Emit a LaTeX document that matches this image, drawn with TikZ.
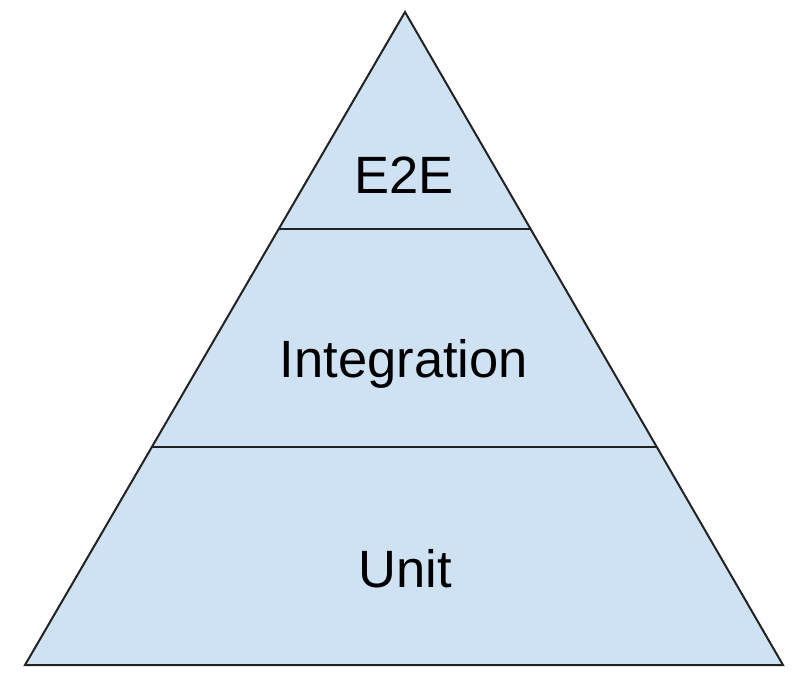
\documentclass[tikz,border=0pt]{standalone}
\usepackage{fontspec}
\setmainfont{Liberation Sans}
\definecolor{pyrfill}{HTML}{CFE2F3}
\definecolor{pyrline}{HTML}{222222}
\begin{document}
\begin{tikzpicture}[x=1pt,y=-1pt,
  edge/.style={draw=pyrline,line width=2pt,line join=miter},
  label/.style={anchor=base,inner sep=0pt,font=\fontsize{52.5}{60}\selectfont}]
\useasboundingbox (0,0) rectangle (804,694);
\coordinate (apex) at (405,12);
\coordinate (bl) at (25,665);
\coordinate (br) at (783,665);
\coordinate (l1) at (278.7,229);
\coordinate (r1) at (530.6,229);
\coordinate (l2) at (151.9,447);
\coordinate (r2) at (656.8,447);
\fill[pyrfill] (apex) -- (br) -- (bl) -- cycle;
\draw[edge] (l1) -- (r1);
\draw[edge] (l2) -- (r2);
\draw[edge] (apex) -- (br) -- (bl) -- cycle;
\node[label] (e2e) at (404,193) {E2E};
\node[label] (integ) at (404,377) {Integration};
\node[label] (unit) at (405,587) {Unit};
\end{tikzpicture}
\end{document}
